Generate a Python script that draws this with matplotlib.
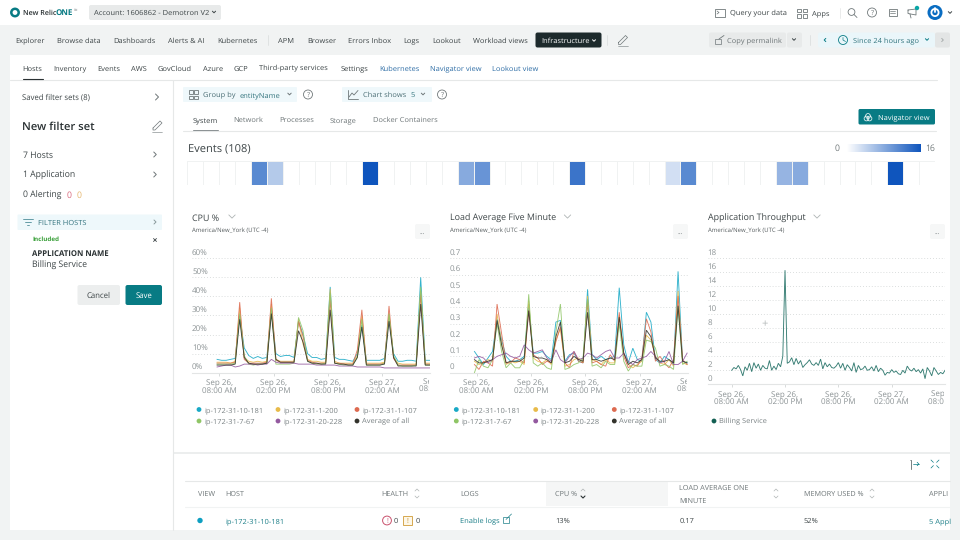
import numpy as np
import matplotlib
matplotlib.use("Agg")
import matplotlib.pyplot as plt
from matplotlib.colors import LinearSegmentedColormap
from matplotlib.patches import Circle, FancyBboxPatch, Rectangle
from matplotlib.transforms import Bbox, ScaledTranslation

plt.rcParams["font.family"] = ["Open Sans", "DejaVu Sans"]
plt.rcParams["text.hinting"] = "no_hinting"

HOSTS = ["ip-172-31-10-181", "ip-172-31-1-200", "ip-172-31-1-107", "ip-172-31-7-67", "ip-172-31-20-228", "Average of all"]
HOST_COLORS = ["#19a9c6", "#e8bb4a", "#dd6a50", "#8fc566", "#93599f", "#33332c"]

# half hourly values, first sample is 15 min before the 08:00 AM tick
CPU_10_181 = [7, 6.5, 6.5, 7, 7.5, 30, 13, 9, 7.5, 8.5, 7.5, 8, 33, 10, 8.5, 9, 9, 8, 27, 20, 10, 8, 8, 7, 7.5, 45,
              8, 7, 7, 6.5, 6, 10, 25, 6.5, 6.5, 6.5, 6.5, 7.5, 29, 10, 6, 6, 6.5, 6.5, 6, 50, 6.5, 6.5]
CPU_1_200 = [5.5, 5.5, 5.5, 5, 6, 34, 8, 6, 5.5, 6, 5.5, 6, 36, 7, 6, 6, 6, 6, 28, 15, 7, 6, 6, 5.5, 5.5, 44,
             6, 5, 5, 5, 5, 9, 30, 5, 5, 5, 5, 5.5, 31, 8, 5, 4.5, 4.5, 4.5, 4.5, 43, 5, 5]
CPU_1_107 = [5, 5, 5, 5, 5.5, 37, 7, 5, 5, 5, 5, 5.5, 39, 6.5, 5.5, 5.5, 5.5, 5.5, 27, 19, 6.5, 5.5, 5, 5, 5, 38,
             5, 5, 4.5, 4.5, 4.5, 12, 33, 4.5, 4.5, 4.5, 4.5, 5, 35, 7.5, 4, 4, 4, 4, 4, 41, 4.5, 4.5]
CPU_7_67 = [4.5, 4.5, 4.5, 4.5, 5, 31, 9, 4.5, 4, 4.5, 4.5, 5, 34, 4.5, 4.5, 4.5, 4.5, 5, 29, 22, 6, 5, 4.5, 4.5, 5, 42,
            5, 4.5, 4, 4, 4, 8, 28, 4, 4, 4, 4, 5, 31, 9, 4, 3.5, 3.5, 3.5, 4, 45, 4, 4]
CPU_20_228 = [3, 3.5, 4, 4, 3, 3.5, 4.5, 4.5, 4.5, 4, 4.5, 4.5, 7, 5.5, 5, 5, 5, 5, 4.5, 4.5, 4.5, 4.5, 4, 4, 4, 4,
              4, 3.5, 3.5, 3.5, 3.5, 3, 3, 3, 3, 3, 3, 2.5, 2.5, 2.5, 2.5, 2.5, 2.5, 2.5, 2.5, 2.5, 2.5, 2.5]
CPU_AVG = [4, 4, 4, 4, 4.5, 28, 8, 5, 4.5, 4.5, 4.5, 5, 31, 7, 5.5, 5.5, 5.5, 5.5, 22, 16, 6, 5, 5, 4.5, 4.5, 33,
           5, 4.5, 4.5, 4, 4, 8, 24, 4, 4, 4, 4, 4.5, 27, 8, 3.5, 3.5, 3.5, 3.5, 3.5, 36, 4, 4]

LOAD_10_181 = [0.13, 0.09, 0.05, 0.09, 0.13, 0.33, 0.2, 0.1, 0.07, 0.07, 0.08, 0.1, 0.42, 0.12, 0.12, 0.13, 0.1, 0.08, 0.31, 0.32,
               0.07, 0.11, 0.12, 0.07, 0.06, 0.51, 0.11, 0.08, 0.1, 0.08, 0.09, 0.1, 0.52, 0.17, 0.06, 0.15, 0.08, 0.07, 0.37, 0.31,
               0.08, 0.06, 0.1, 0.08, 0.05, 0.62, 0.07, 0.06]
LOAD_1_200 = [0.07, 0.05, 0.06, 0.08, 0.07, 0.36, 0.18, 0.05, 0.07, 0.06, 0.07, 0.05, 0.44, 0.09, 0.07, 0.06, 0.08, 0.05, 0.2, 0.27,
              0.04, 0.05, 0.08, 0.09, 0.06, 0.47, 0.08, 0.07, 0.05, 0.08, 0.06, 0.06, 0.35, 0.12, 0.05, 0.03, 0.05, 0.07, 0.23, 0.2,
              0.1, 0.06, 0.05, 0.08, 0.04, 0.5, 0.06, 0.05]
LOAD_1_107 = [0.05, 0.02, 0.07, 0.06, 0.04, 0.42, 0.24, 0.06, 0.06, 0.09, 0.08, 0.06, 0.38, 0.11, 0.09, 0.05, 0.07, 0.06, 0.19, 0.28,
              0.06, 0.03, 0.13, 0.07, 0.06, 0.43, 0.06, 0.07, 0.05, 0.04, 0.11, 0.07, 0.37, 0.1, 0.03, 0.05, 0.04, 0.09, 0.33, 0.25,
              0.07, 0.1, 0.06, 0.03, 0.08, 0.47, 0.08, 0.05]
LOAD_7_67 = [0.0, 0.08, 0.04, 0.03, 0.08, 0.3, 0.13, 0.03, 0.06, 0.03, 0.03, 0.08, 0.48, 0.06, 0.04, 0.06, 0.03, 0.02, 0.25, 0.42,
             0.02, 0.03, 0.05, 0.06, 0.09, 0.45, 0.04, 0.05, 0.03, 0.07, 0.05, 0.05, 0.3, 0.07, 0.01, 0.05, 0.04, 0.04, 0.2, 0.19,
             0.15, 0.04, 0.05, 0.04, 0.02, 0.4, 0.05, 0.07]
LOAD_20_228 = [0.09, 0.1, 0.09, 0.06, 0.08, 0.1, 0.11, 0.12, 0.1, 0.09, 0.1, 0.17, 0.14, 0.12, 0.13, 0.14, 0.09, 0.07, 0.14, 0.08,
               0.06, 0.1, 0.13, 0.08, 0.09, 0.12, 0.11, 0.09, 0.11, 0.13, 0.14, 0.09, 0.09, 0.12, 0.07, 0.05, 0.08, 0.09, 0.1, 0.13,
               0.1, 0.06, 0.07, 0.13, 0.05, 0.05, 0.07, 0.12]
LOAD_AVG = [0.08, 0.06, 0.06, 0.07, 0.08, 0.32, 0.17, 0.06, 0.07, 0.07, 0.07, 0.09, 0.38, 0.1, 0.09, 0.09, 0.08, 0.06, 0.22, 0.31,
            0.06, 0.07, 0.1, 0.08, 0.07, 0.37, 0.08, 0.08, 0.07, 0.08, 0.09, 0.08, 0.34, 0.12, 0.05, 0.07, 0.06, 0.08, 0.26, 0.22,
            0.09, 0.07, 0.07, 0.08, 0.06, 0.41, 0.07, 0.06]

# quarter hourly
THROUGHPUT = [2.0, 2.4, 2.2, 2.7, 2.1, 1.2, 2.5, 2.0, 3.0, 1.8, 3.1, 2.3, 2.9, 2.0, 2.7, 2.3, 2.2, 3.4, 2.0, 2.6,
              2.1, 3.0, 2.5, 4.0, 16.3, 3.0, 3.2, 3.8, 2.8, 3.7, 2.9, 3.4, 2.4, 2.8, 3.1, 3.5, 2.9, 2.7, 3.1, 2.7,
              3.6, 2.2, 3.1, 2.5, 2.9, 2.4, 2.3, 2.6, 3.1, 2.3, 3.0, 2.0, 2.8, 2.4, 1.9, 3.1, 1.7, 2.7, 2.1, 2.2,
              2.6, 2.0, 2.1, 2.5, 1.9, 2.7, 1.8, 2.3, 2.0, 1.3, 1.7, 1.6, 2.1, 1.7, 1.9, 1.5, 1.4, 2.0, 1.6, 2.6,
              2.1, 1.9, 2.3, 1.8, 2.1, 1.6, 2.2, 0.8, 2.4, 1.9, 1.2, 2.4, 1.9, 1.4, 1.7, 1.5, 2.0]

EVENT_COUNTS = [0, 0, 0, 0, 11, 5, 0, 0, 0, 0, 0, 16, 0, 0, 0, 0, 0, 8, 10, 0, 0, 0, 0, 0, 13, 0, 0, 0, 0, 0, 3, 11,
                0, 0, 0, 0, 0, 7, 8, 0, 0, 0, 0, 0, 16, 0, 0]

X_TICK_HOURS = [0, 6, 12, 18]
X_TICK_LABELS = ["Sep 26,\n08:00 AM", "Sep 26,\n02:00 PM", "Sep 26,\n08:00 PM", "Sep 27,\n02:00 AM"]
LAST_TICK_LABEL = "Sep 27,\n08:00 AM"
CPU_TICKS = [0, 10, 20, 30, 40, 50, 60]
LOAD_TICKS = [0, 0.1, 0.2, 0.3, 0.4, 0.5, 0.6, 0.7]
THROUGHPUT_TICKS = [0, 2, 4, 6, 8, 10, 12, 14, 16, 18]

TOP_NAV = [("Explorer", 15), ("Browse data", 57), ("Dashboards", 113), ("Alerts & AI", 168), ("Kubernetes", 217),
           ("APM", 278), ("Browser", 307), ("Errors Inbox", 348), ("Logs", 403), ("Lookout", 432.5), ("Workload views", 473)]
TABS = [("Hosts", 22.5), ("Inventory", 53), ("Events", 97.5), ("AWS", 131), ("GovCloud", 158), ("Azure", 203),
        ("GCP", 234), ("Third-party services", 259), ("Settings", 340.5)]
LINK_TABS = [("Kubernetes", 379.5), ("Navigator view", 429.5), ("Lookout view", 491.5)]
SUB_TABS = [("System", 192.5), ("Network", 233.5), ("Processes", 279.5), ("Storage", 330), ("Docker Containers", 373)]

TEAL = "#087b84"
TXT = "#3d4547"
GREY = "#6f7779"
LINE = "#e6e8e8"
LINK = "#2f6ea6"

fig = plt.figure(figsize=(9.6, 5.4), dpi=100, facecolor="#f1f3f3")
ui = fig.add_axes([0, 0, 1, 1])
ui.set_xlim(0, 960)
ui.set_ylim(540, 0)
ui.axis("off")


def txt(x, y, s, size=5.4, color=TXT, **kw):
    # y is the middle of the capitals, baseline alignment keeps words with descenders level
    return ui.text(x, y + 0.5 * size, s, fontsize=size, color=color, va="baseline", **kw)


def box(x0, y0, x1, y1, color, r=0, zorder=1):
    if r:
        ui.add_patch(FancyBboxPatch((x0 + r, y0 + r), x1 - x0 - 2 * r, y1 - y0 - 2 * r, boxstyle=f"round,pad={r}",
                                    fc=color, ec="none", zorder=zorder))
    else:
        ui.add_patch(Rectangle((x0, y0), x1 - x0, y1 - y0, fc=color, ec="none", zorder=zorder))


def seg(xs, ys, color=GREY, lw=0.6, zorder=3):
    ui.plot(xs, ys, color=color, lw=lw, zorder=zorder, solid_capstyle="round")


def chev(x, y, d="d", s=2.0, color=GREY, lw=0.7):
    if d == "d":
        seg([x - s, x, x + s], [y - s / 2, y + s / 2, y - s / 2], color, lw)
    else:
        sign = 1 if d == "r" else -1
        seg([x - sign * s / 2, x + sign * s / 2, x - sign * s / 2], [y - s, y, y + s], color, lw)


def ring(x, y, r, color=GREY, lw=0.6, fc="none", zorder=3):
    ui.add_patch(Circle((x, y), r, fc=fc, ec=color, lw=lw, zorder=zorder))


def help_icon(x, y, color=GREY, r=4.5):
    ring(x, y, r, color)
    txt(x, y, "?", 5, color, ha="center")


def grid_icon(x, y, color=GREY):
    for dx in (0, 5.5):
        for dy in (0, 5.5):
            ui.add_patch(Rectangle((x + dx, y + dy), 4, 3.5, fc="none", ec=color, lw=0.6, zorder=3))


def pencil(x, y, color=GREY):
    seg([x - 4, x + 3, x + 5, x - 2, x - 4, x - 4], [y + 3, y - 4, y - 2, y + 5, y + 5, y + 3], color, 0.5)
    seg([x - 5, x + 5], [y + 6.5, y + 6.5], color, 0.4)


# page blocks
box(0, 0, 960, 25, "white")
box(10, 55, 950, 530, "white")
seg([173, 173], [80, 530], LINE, 0.8)
seg([10, 937], [79.5, 79.5], LINE, 0.8)
seg([183, 936], [130.5, 130.5], LINE, 0.8)
box(173, 452, 950, 453.5, "#eceeee")

# top bar
ring(15, 12.5, 3.7, TEAL, 1.8)
txt(23, 12.5, "New Relic", 5.1, "#2a3133", weight="semibold")
txt(56, 12.5, "ONE", 5.8, TEAL, weight="bold")
txt(74, 10, "TM", 2.2, GREY)
box(89, 5, 221, 20, "#e8eaea", 2)
txt(94, 12.5, "Account: 1606862 - Demotron V2", 5.4, zorder=4)
chev(214, 12, s=1.6, color=TXT)
ui.add_patch(Rectangle((715, 8.5), 10, 8, fc="none", ec=GREY, lw=0.6))
seg([717, 719, 717], [11, 12.5, 14], GREY, 0.5)
txt(730, 12.8, "Query your data", 5.4)
grid_icon(797, 8.5)
txt(812, 12.8, "Apps", 5.4)
seg([839.5, 839.5], [8, 18], LINE)
ring(851.5, 12, 3.4)
seg([854, 857], [14.5, 17.5])
help_icon(872, 12.5)
ui.add_patch(Rectangle((888.5, 8.5), 8, 7, fc="none", ec=GREY, lw=0.6))
seg([890, 895], [11, 11], GREY, 0.5)
seg([890, 895], [13, 13], GREY, 0.5)
seg([908, 916, 916, 908, 908], [10, 9, 15, 13.5, 10])
seg([910, 911], [14, 18])
ui.add_patch(Circle((917, 8), 2.2, fc="#0aa6a6", ec="none", zorder=4))
ui.add_patch(Circle((935, 12.5), 7.5, fc="#0a6dc2", ec="none", zorder=3))
ui.add_patch(Circle((935, 12.5), 3.6, fc="none", ec="white", lw=1.3, zorder=4))
seg([935, 935], [8, 12], "white", 1.3, 5)
chev(950, 12.5, s=1.7, color=TXT)

# second nav
for name, x in TOP_NAV:
    txt(x, 40, name)
seg([267.5, 267.5], [35, 45], "#dcdfdf")
box(535.5, 32.5, 601.5, 47.5, "#1d2a2c", 2)
txt(541, 40, "Infrastructure", 5.4, "white", zorder=4)
chev(594, 40.5, s=1.5, color="white")
seg([606.5, 606.5], [35, 45], "#dcdfdf")
pencil(622.5, 39.5)
box(709, 32.5, 786, 47.5, "#e8eaea", 2)
box(787, 32.5, 802, 47.5, "#e8eaea", 2)
ui.add_patch(Rectangle((714.5, 39), 6, 5, fc="none", ec=GREY, lw=0.5, zorder=3))
seg([719, 724], [39, 35.5])
txt(727, 40.5, "Copy permalink", 5.4, GREY, zorder=4)
chev(794, 39.5, s=1.6, color=TXT)
seg([809.5, 809.5], [35, 45], "#dcdfdf")
box(818, 32.5, 935, 47.5, "#eaf6fa", 2)
chev(825, 40, "l", 1.6, TEAL)
ring(843, 40, 4.5, TEAL)
seg([843, 843, 845.5], [37.5, 40, 41.5], TEAL, 0.5)
txt(853, 40.5, "Since 24 hours ago", 5.4, "#34757e", zorder=4)
chev(927, 39.5, s=1.6, color=TEAL)
box(935, 32.5, 950, 47.5, "#e3e5e5", 2)
chev(942.5, 40, "r", 1.6, "#a8aeae")

# tabs
for name, x in TABS:
    txt(x, 68, name, 5.4)
for name, x in LINK_TABS:
    txt(x, 68, name, 5.4, LINK)
seg([22.5, 43], [78.5, 78.5], "#2a3133", 0.8)

# side panel
txt(22.5, 97, "Saved filter sets (8)", 5.6)
chev(157, 97, "r", 3)
txt(22.5, 126, "New filter set", 8.1, "#2a3133", weight="semibold")
pencil(157, 125)
txt(23, 154.5, "7 Hosts", 6.2)
chev(155, 154.5, "r", 2.5)
txt(23, 174.5, "1 Application", 6.2)
chev(155, 174.5, "r", 2.5)
txt(23, 194.5, "0 Alerting", 6.2)
txt(67, 194.5, "0", 6.2, "#d9657a")
txt(77, 194.5, "0", 6.2, "#e5b56b")
box(17.5, 214.5, 162, 230, "#eef8fb", 1)
seg([22.5, 33], [219, 219], "#4d8d98")
seg([24.5, 31], [222, 222], "#4d8d98")
seg([26.5, 29], [225, 225], "#4d8d98")
txt(37.5, 222, "FILTER HOSTS", 5.4, "#33737e", zorder=4)
chev(155, 222, "r", 2, "#8a9a9c")
txt(32.5, 238.5, "Included", 4.5, "#3aa03a", weight="bold")
seg([153.5, 156.5], [238.5, 241.5], TXT)
seg([153.5, 156.5], [241.5, 238.5], TXT)
txt(32.5, 253, "APPLICATION NAME", 5.6, "#2a3133", weight="bold")
txt(32.5, 264.5, "Billing Service", 6.2)
box(77.5, 285, 120, 305, "#eceeee", 2)
txt(98.8, 295, "Cancel", 5.6, ha="center", zorder=4)
box(125.5, 285, 162, 305, TEAL, 2)
txt(143.8, 295, "Save", 5.6, "white", ha="center", zorder=4)

# chart controls
box(183, 87, 297, 102, "#eff8fb", 1)
grid_icon(188.5, 90)
txt(203, 94.5, "Group by", 5.4, "#4c6f76", zorder=4)
txt(240, 94.5, "entityName", 5.4, "#34757e", zorder=4)
chev(289.5, 94, s=1.7)
help_icon(308, 94.5)
box(342, 87, 432, 102, "#eff8fb", 1)
seg([348, 348, 358], [90, 99, 99])
seg([349, 352, 354, 358], [97, 93, 95, 90.5])
txt(363, 94.5, "Chart shows", 5.4, "#4c6f76", zorder=4)
txt(410.5, 94.5, "5", 5.4, "#34757e", zorder=4)
chev(423, 94, s=1.7)
help_icon(442, 94.5)
for i, (name, x) in enumerate(SUB_TABS):
    txt(x, 119.5, name, 5.4, TXT if i == 0 else GREY)
seg([192.5, 218], [129.5, 129.5], "#8a9092", 0.7)
box(858.5, 109, 935, 124.5, TEAL, 1.5)
for dx, dy in ((-1.5, 1.5), (1.5, 1.5), (0, -1)):
    ring(868 + dx, 117 + dy, 2.4, "white", 0.5, zorder=4)
txt(878.5, 117, "Navigator view", 5.4, "white", zorder=4)

# events strip
txt(187.5, 148, "Events (108)", 8.0)
txt(837, 148, "0", 6.2, GREY, ha="center")
txt(930, 148, "16", 6.2, GREY, ha="center")


def add_ax(x0, y0, x1, y1):
    return fig.add_axes([x0 / 960, 1 - y1 / 540, (x1 - x0) / 960, (y1 - y0) / 540])


event_cmap = LinearSegmentedColormap.from_list("events", ["#ffffff", "#0f55bd"])
ev = add_ax(187.3, 160.7, 935, 185)
ev.pcolormesh(np.arange(len(EVENT_COUNTS) + 1), [0, 1], np.array([EVENT_COUNTS]), cmap=event_cmap, vmin=0, vmax=16,
              edgecolors="#f0f2f2", linewidth=0.5)
ev.axis("off")
ramp = add_ax(846.7, 144.3, 920, 152)
ramp.imshow(np.linspace(0, 16, 256)[None, :], aspect="auto", cmap=event_cmap, vmin=0, vmax=16)
ramp.axis("off")


def draw_chart(box_px, ylim, ticks, tick_fmt, series, colors, hours, xlim_left, lw=0.65):
    x0, y0, x1, y1 = box_px
    ax = add_ax(x0, y0, x1, y1)
    ax.patch.set_alpha(0)
    for values, color in zip(series, colors):
        ax.plot(hours, values, color=color, lw=lw, alpha=0.88, solid_joinstyle="miter")
    ax.set_ylim(*ylim)
    px_per_hour = 9.05 if x1 < 940 else 8.89
    ax.set_xlim(xlim_left, xlim_left + (x1 - x0) / px_per_hour)
    ax.set_yticks(ticks)
    ax.set_yticklabels([tick_fmt(t) for t in ticks], fontsize=5.8, color="#8b9294")
    ax.tick_params(axis="y", length=0, pad=0, direction="in")
    # labels sit inside the plot, just above their grid line
    lift = ScaledTranslation(0, 1.5 / 100, fig.dpi_scale_trans)
    for lab in ax.get_yticklabels():
        lab.set_ha("left")
        lab.set_va("bottom")
        lab.set_transform(lab.get_transform() + lift)
    ax.set_xticks(X_TICK_HOURS)
    ax.set_xticklabels(X_TICK_LABELS, fontsize=5.8, color="#8b9294", linespacing=0.9)
    ax.tick_params(axis="x", length=2, width=0.5, color="#c9cdcd", pad=2.6)
    ax.grid(axis="y", color="#cfd3d3", lw=0.6, linestyle=(0, (1, 2.5)))
    ax.set_axisbelow(True)
    for name in ("top", "left", "right"):
        ax.spines[name].set_visible(False)
    ax.spines["bottom"].set_color("#e3e5e5")
    ax.spines["bottom"].set_linewidth(0.8)
    # the 24h tick falls past the plot edge and its label gets cut at the edge
    last = ax.text(24, -0.045, LAST_TICK_LABEL, transform=ax.get_xaxis_transform(), ha="center", va="top",
                   fontsize=5.8, color="#8b9294", linespacing=0.9, clip_on=True)
    last.set_clip_box(Bbox([[0, 0], [x1 - 1, 540]]))
    return ax


def chart_header(x, title, menu_x, chev_x):
    txt(x, 217.5, title, 6.4)
    chev(chev_x, 216.5, s=3.2, color="#aeb4b4", lw=0.6)
    txt(x, 230, "America/New_York (UTC -4)", 4.3, "#555c5e")
    box(menu_x, 224, menu_x + 15, 239, "#f6f7f7", 2)
    txt(menu_x + 7.5, 231, "...", 5, GREY, ha="center", zorder=4)


hours_half = -0.25 + 0.5 * np.arange(len(CPU_AVG))
hours_quarter = 0.25 * np.arange(len(THROUGHPUT))

chart_header(192.5, "CPU %", 415, 232)
draw_chart((192, 258.3, 430, 372.7), (0, 60), CPU_TICKS, lambda t: f"{t}%",
           [CPU_10_181, CPU_1_200, CPU_1_107, CPU_7_67, CPU_20_228, CPU_AVG], HOST_COLORS, hours_half, -3.02)
chart_header(450.5, "Load Average Five Minute", 673, 567.5)
draw_chart((450, 258.3, 688, 372.7), (0, 0.7), LOAD_TICKS, lambda t: f"{t:g}",
           [LOAD_10_181, LOAD_1_200, LOAD_1_107, LOAD_7_67, LOAD_20_228, LOAD_AVG], HOST_COLORS, hours_half, -2.95)
chart_header(707.5, "Application Throughput", 930, 817)
draw_chart((707.5, 258.3, 945, 384.3), (0, 18), THROUGHPUT_TICKS, lambda t: f"{t}",
           [THROUGHPUT], ["#1a6b60"], hours_quarter, -2.72, lw=0.65)
txt(765, 323.5, "+", 8, "#b5baba", ha="center")

# legends
for base, dot_xs in ((0, (199, 278, 357)), (1, (456.3, 535.7, 614.3))):
    for i, (name, color) in enumerate(zip(HOSTS, HOST_COLORS)):
        lx = dot_xs[i % 3]
        ly = 409.5 if i < 3 else 421
        ui.add_patch(Circle((lx, ly), 2.4, fc=color, ec="none", zorder=4))
        txt(lx + 5, ly, name, 5.4, "#7a8284")
ui.add_patch(Circle((714, 421), 2.4, fc="#125f52", ec="none", zorder=4))
txt(718.7, 421, "Billing Service", 5.4, "#7a8284")

# table
seg([910, 911, 911], [459.5, 459.5, 469], GREY, 0.5)
seg([911, 911], [459.5, 468.5], GREY, 0.5)
seg([913, 919], [464, 464], TEAL, 0.5)
chev(918, 464, "r", 1.7, TEAL, 0.5)
for dx, dy in ((-4, -4), (4, -4), (-4, 4), (4, 4)):
    seg([935 + dx, 935 + dx * 0.4], [464 + dy, 464 + dy * 0.4], TEAL, 0.5)
seg([185, 950], [481, 481], LINE, 0.8)
seg([185, 950], [506.5, 506.5], "#f1f3f3", 0.8)
box(546, 481.5, 668, 506, "#f5f6f6")


def sort_arrows(x, y, active=False):
    seg([x - 2, x, x + 2], [y - 2.5, y - 4.5, y - 2.5], "#b0b5b5", 0.5)
    seg([x - 2, x, x + 2], [y + 2.5, y + 4.5, y + 2.5], "#2a3133" if active else "#b0b5b5", 0.8 if active else 0.5)


HEADER_Y = 493.5
for name, x in (("VIEW", 197.5), ("HOST", 225.5), ("HEALTH", 381.5), ("LOGS", 460), ("CPU %", 555), ("MEMORY USED %", 804), ("APPLI", 929)):
    txt(x, HEADER_Y, name, 5.2, GREY, zorder=4)
txt(679, 487.5, "LOAD AVERAGE ONE", 5.2, GREY, zorder=4)
txt(679, 500.5, "MINUTE", 5.2, GREY, zorder=4)
sort_arrows(417, HEADER_Y)
sort_arrows(583, HEADER_Y, True)
sort_arrows(776, HEADER_Y)
sort_arrows(872, HEADER_Y)

ROW_Y = 520.5
ui.add_patch(Circle((200, ROW_Y), 2.7, fc="#0e9fc1", ec="none", zorder=4))
txt(225.5, ROW_Y, "ip-172-31-10-181", 5.4, "#1c7f88")
ring(387, ROW_Y, 4.4, "#c9506c", 0.7)
txt(387, ROW_Y, "!", 5, "#c9506c", ha="center")
txt(394, ROW_Y, "0", 5.4)
ui.add_patch(Rectangle((403, ROW_Y - 4.3), 8.6, 8.6, fc="#fdf7e8", ec="#d6a84f", lw=0.7, zorder=3))
txt(407.3, ROW_Y, "!", 5, "#c58a22", ha="center", zorder=4)
txt(416, ROW_Y, "0", 5.4)
txt(460, ROW_Y, "Enable logs", 5.4, "#1c7f88")
ui.add_patch(Rectangle((503, ROW_Y - 3.5), 6, 6, fc="none", ec="#1c7f88", lw=0.5, zorder=3))
seg([506, 511.5], [ROW_Y - 1, ROW_Y - 6.5], "#1c7f88", 0.5)
txt(555, ROW_Y, "13%", 5.4)
txt(680, ROW_Y, "0.17", 5.4)
txt(804, ROW_Y, "52%", 5.4)
txt(929, ROW_Y, "5 Appl", 5.4, "#1c7f88")

fig.savefig("out.png", dpi=100, facecolor=fig.get_facecolor())
